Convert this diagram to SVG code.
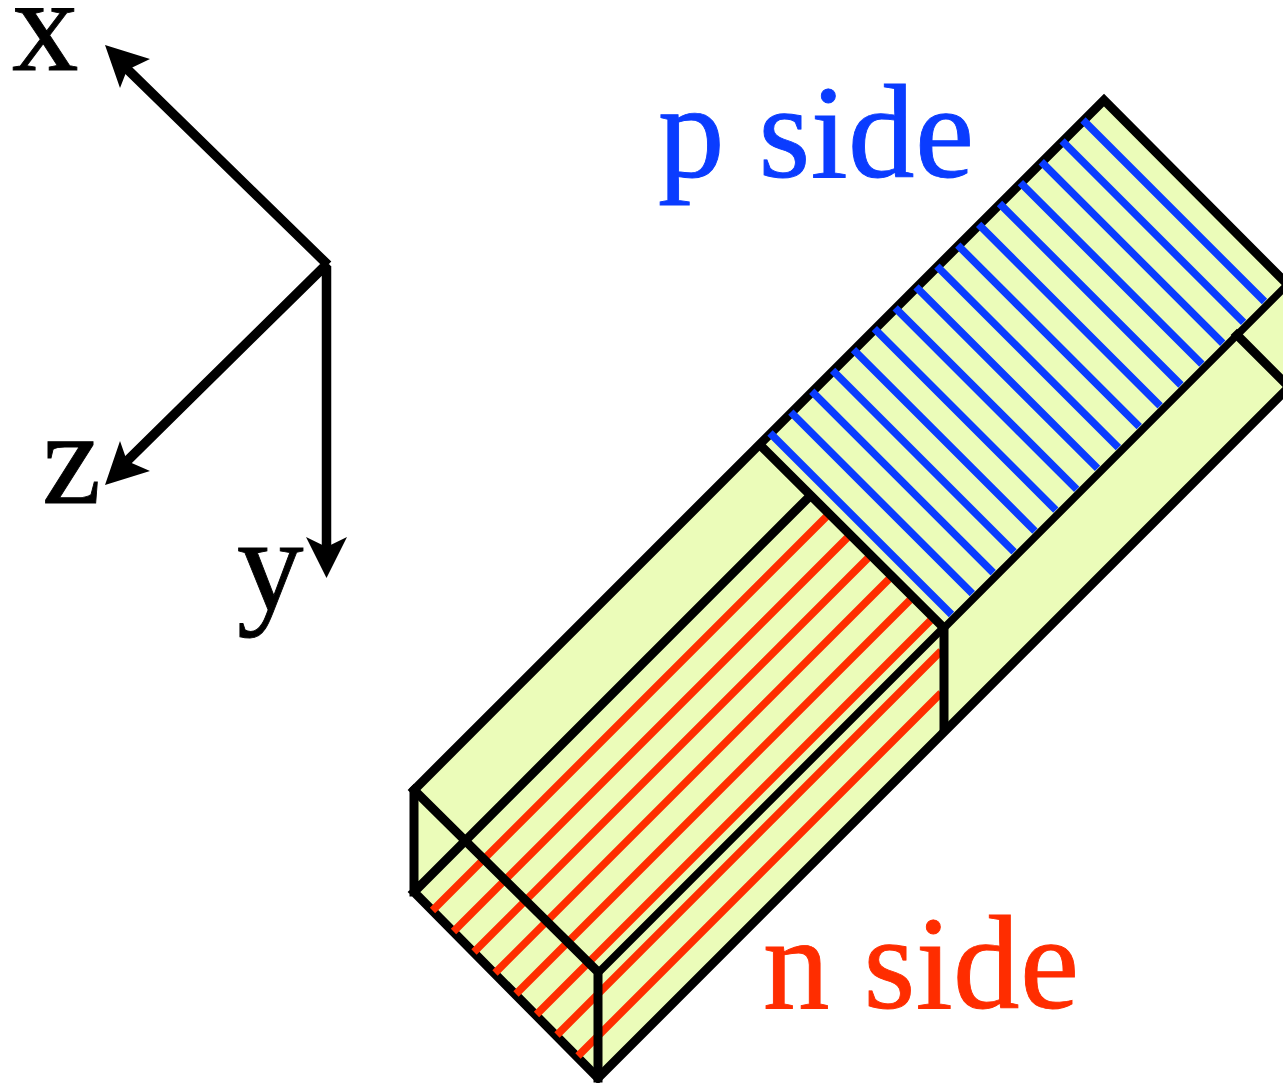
<svg xmlns="http://www.w3.org/2000/svg" width="1283" height="1083" viewBox="0 0 1283 1083">
<style>
text{font-family:"Liberation Serif","Times New Roman",serif;font-size:133px;stroke-width:.9}
.k{fill:none;stroke:#000;stroke-width:9;stroke-linecap:square;stroke-linejoin:miter}
.t{fill:none;stroke:#000;stroke-width:9.500}
.r{fill:none;stroke:#ff2d00;stroke-width:7.500}
.b{fill:none;stroke:#0a3cff;stroke-width:7.500}
.ah{fill:#000;stroke:none}
</style>
<rect width="1283" height="1083" fill="#fff"/>
<g id="bar">
<path d="M414 790L1104 100L1290 286V386L598 1078L414 892Z" fill="#ebfcb9"/>
<path class="k" d="M414 892V790L1104 100L1290 287M1290 386L598 1078L414 892L808 498"/>
<path class="r" d="M432.500 910.500L826.500 516.500M453.500 931.500L847.500 537.500M474 952L868 558M495 973L889 579M516 994L910 600M536.500 1014.500L930.500 620.500M557 1035L941 651M578 1056L941 693"/>
<path class="k" d="M414 790L598 972V1078M760 445L944 628V728M1237 335L1290 388"/>
<path d="M598 973L944 627M944 628L1290 282" fill="none" stroke="#000" stroke-width="7.500"/>
<path class="b" d="M770 433L951.500 614.500M790.850 412.150L972.350 593.650M811.750 391.250L993.250 572.750M832.600 370.400L1014.100 551.900M853.450 349.550L1034.950 531.050M874.350 328.650L1055.850 510.150M895.200 307.800L1076.700 489.300M916.050 286.950L1097.550 468.450M936.900 266.100L1118.400 447.600M957.800 245.200L1139.300 426.700M978.650 224.350L1160.150 405.850M999.500 203.500L1181 385M1020.400 182.600L1201.900 364.100M1041.250 161.750L1222.750 343.250M1062.100 140.900L1243.600 322.400M1083 120L1264.500 301.500"/>
</g>
<g id="axes">
<path class="t" d="M328 265L124 66M328 263L124 464M326.500 266V552"/>
<path class="ah" d="M105 45L150 59L127 70L120 88Z"/>
<path class="ah" d="M105 485L150 471L127 461L120 441Z"/>
<path class="ah" d="M326.500 578L306 537L326.500 547L347 537Z"/>
</g>
<g id="labels">
<text x="12" y="70" fill="#000" stroke="#000">x</text>
<text x="42" y="503" fill="#000" stroke="#000">z</text>
<text x="237" y="610" fill="#000" stroke="#000">y</text>
<text x="658" y="177" fill="#0a3cff" stroke="#0a3cff" letter-spacing=".4">p side</text>
<text x="763" y="1008" fill="#ff2d00" stroke="#ff2d00" letter-spacing=".4">n side</text>
</g>
</svg>
